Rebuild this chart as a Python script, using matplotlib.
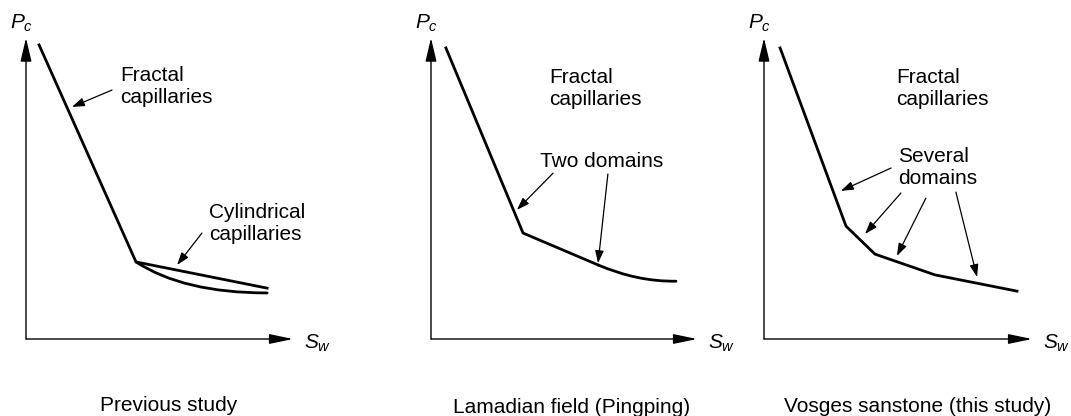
import matplotlib.pyplot as plt
from matplotlib.path import Path
from matplotlib.patches import PathPatch

plt.rcParams['font.family'] = ['Liberation Sans', 'DejaVu Sans']
plt.rcParams['mathtext.fontset'] = 'custom'
plt.rcParams['mathtext.it'] = 'Liberation Sans:italic'
plt.rcParams['mathtext.rm'] = 'Liberation Sans'

# sketch curves, Sw and Pc in relative units (0..1 along each axis)
# panel 1: previous study
p1_sw = [0.049, 0.412, 0.903]
p1_pc = [0.977, 0.256, 0.169]
p1_low_sw = [0.412, 0.59, 0.903]      # bezier: start, control, end
p1_low_pc = [0.256, 0.153, 0.153]

# panel 2: Lamadian field
p2_sw = [0.056, 0.346, 0.628]
p2_pc = [0.967, 0.352, 0.246]
p2_tail_sw = [0.628, 0.777, 0.921]    # bezier: start, control, end
p2_tail_pc = [0.246, 0.190, 0.192]

# panel 3: Vosges sandstone
p3_sw = [0.060, 0.306, 0.414, 0.638, 0.944]
p3_pc = [0.967, 0.375, 0.282, 0.213, 0.159]

titles = ['Previous study', 'Lamadian field (Pingping)', 'Vosges sanstone (this study)']

# labels: (text, x, y top)
p1_labels = [('Fractal\ncapillaries', 0.352, 0.907), ('Cylindrical\ncapillaries', 0.685, 0.452)]
p2_labels = [('Fractal\ncapillaries', 0.444, 0.900), ('Two domains', 0.410, 0.621)]
p3_labels = [('Fractal\ncapillaries', 0.493, 0.900), ('Several\ndomains', 0.500, 0.638)]

# arrows: (tail x, tail y, head x, head y)
p1_arrows = [(0.322, 0.827, 0.172, 0.771), (0.659, 0.352, 0.566, 0.246)]
p2_arrows = [(0.459, 0.551, 0.323, 0.429), (0.665, 0.548, 0.628, 0.252)]
p3_arrows = [(0.474, 0.568, 0.287, 0.492), (0.511, 0.485, 0.377, 0.349),
             (0.604, 0.468, 0.496, 0.276), (0.716, 0.488, 0.795, 0.206)]

title_y = [-0.240, -0.246, -0.243]
title_x = [0.536, 0.530, 0.575]

W, H = 1071, 416
fig = plt.figure(figsize=(W / 100, H / 100), dpi=100)

# axes boxes in pixels: origin x, arrow tip x
boxes = [(26, 293), (431, 697), (764, 1032)]
y_orig, y_tip = 339, 38

axes = []
for x0, x1 in boxes:
    ax = fig.add_axes([x0 / W, (H - y_orig) / H, (x1 - x0) / W, (y_orig - y_tip) / H])
    ax.set_xlim(0, 1)
    ax.set_ylim(0, 1)
    ax.axis('off')
    axes.append(ax)


def bezier(ax, xs, ys):
    path = Path(list(zip(xs, ys)), [Path.MOVETO, Path.CURVE3, Path.CURVE3])
    ax.add_patch(PathPatch(path, fill=False, lw=2.0, color='black', capstyle='round'))


axes[0].plot(p1_sw, p1_pc, color='black', lw=2.0)
bezier(axes[0], p1_low_sw, p1_low_pc)
axes[1].plot(p2_sw, p2_pc, color='black', lw=2.0)
bezier(axes[1], p2_tail_sw, p2_tail_pc)
axes[2].plot(p3_sw, p3_pc, color='black', lw=2.0)

all_labels = [p1_labels, p2_labels, p3_labels]
all_arrows = [p1_arrows, p2_arrows, p3_arrows]

for i, ax in enumerate(axes):
    # axis arrows
    ax.annotate('', xy=(0, 1), xytext=(0, 0), xycoords='axes fraction',
                arrowprops=dict(arrowstyle='-|>,head_length=1.44,head_width=0.34',
                                color='black', lw=1.0, shrinkA=0, shrinkB=0))
    ax.annotate('', xy=(1, 0), xytext=(0, 0), xycoords='axes fraction',
                arrowprops=dict(arrowstyle='-|>,head_length=1.44,head_width=0.30',
                                color='black', lw=1.0, shrinkA=0, shrinkB=0))
    ax.text(-0.06, 1.085, r'$P_c$', fontsize=15, ha='left', va='top', transform=ax.transAxes)
    ax.text(1.04, 0.02, r'$S_w$', fontsize=15, ha='left', va='top', transform=ax.transAxes)

    for txt, tx, ty in all_labels[i]:
        ax.text(tx, ty, txt, fontsize=15, ha='left', va='top', linespacing=1.2)
    for xa, ya, xb, yb in all_arrows[i]:
        ax.annotate('', xy=(xb, yb), xytext=(xa, ya),
                    arrowprops=dict(arrowstyle='-|>,head_length=0.75,head_width=0.26',
                                    color='black', lw=0.9, shrinkA=0, shrinkB=0))

    ax.text(title_x[i], title_y[i], titles[i], fontsize=15, ha='center', va='baseline',
            transform=ax.transAxes)

fig.savefig('out.png', dpi=100)
